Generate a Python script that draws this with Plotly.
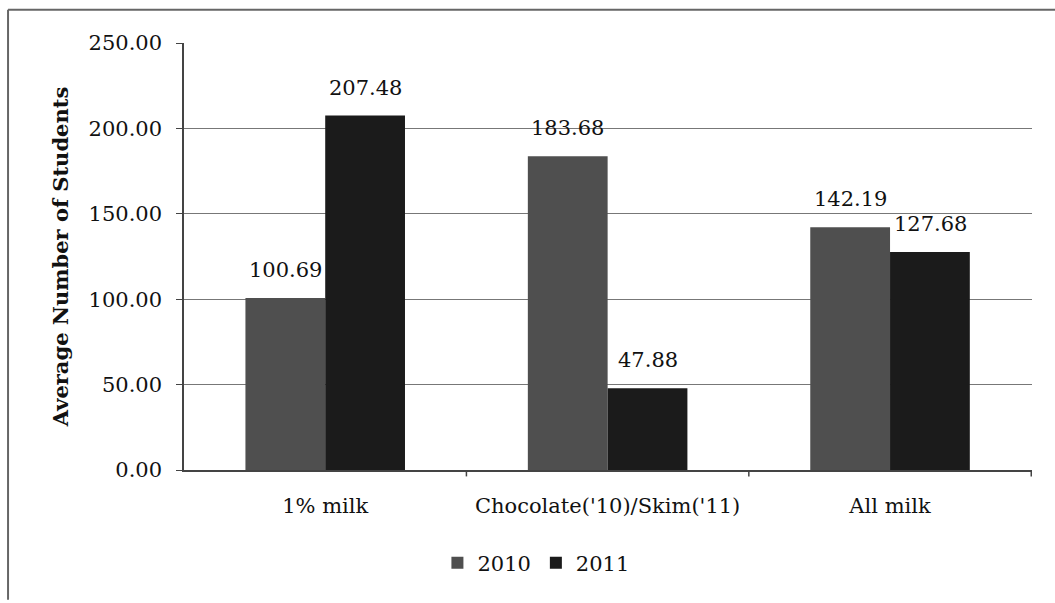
import plotly.graph_objects as go

categories = ["1% milk", "Chocolate('10)/Skim('11)", "All milk"]
values_2010 = [100.69, 183.68, 142.19]
values_2011 = [207.48, 47.88, 127.68]
series_names = ["2010", "2011"]
y_ticks = [0, 50, 100, 150, 200, 250]
y_tick_labels = ["0.00", "50.00", "100.00", "150.00", "200.00", "250.00"]

FONT = "DejaVu Serif"
FS = 21
colors = ["#4f4f4f", "#1b1b1b"]

fig = go.Figure()
for name, vals, col in zip(series_names, [values_2010, values_2011], colors):
    fig.add_trace(go.Bar(
        name=name, x=categories, y=vals,
        marker=dict(color=col, line=dict(width=0)),
    ))

# value labels above each bar
half = 40
for vals, shift in [(values_2010, -half), (values_2011, half)]:
    for cat, v in zip(categories, vals):
        fig.add_annotation(
            x=cat, y=v, xref="x", yref="y", text=f"{v:.2f}",
            showarrow=False, xshift=shift, yshift=28,
            font=dict(family=FONT, size=FS, color="#111111"),
        )

# chart frame (left and top edges)
fig.add_shape(type="line", xref="paper", yref="paper",
              x0=-0.2075, x1=-0.2075, y0=-0.304, y1=1.078,
              line=dict(color="#666666", width=2))
fig.add_shape(type="line", xref="paper", yref="paper",
              x0=-0.2075, x1=1.03, y0=1.078, y1=1.078,
              line=dict(color="#666666", width=2))

fig.update_layout(
    width=1055, height=603,
    margin=dict(l=184, r=23, t=43, b=133),
    paper_bgcolor="white", plot_bgcolor="white",
    barmode="group", bargap=0.435, bargroupgap=0,
    font=dict(family=FONT, size=FS, color="#111111"),
    showlegend=True,
    legend=dict(orientation="h", x=0.415, xanchor="center", y=-0.17, yanchor="top",
                font=dict(family=FONT, size=FS), itemwidth=30, traceorder="normal"),
    xaxis=dict(showgrid=False, showline=True, linecolor="#444444", linewidth=1.5,
               ticks="outside", ticklen=0, ticklabelstandoff=16,
               tickfont=dict(family=FONT, size=FS)),
    yaxis=dict(range=[0, 250], tickvals=y_ticks, ticktext=y_tick_labels,
               showgrid=True, gridcolor="#777777", gridwidth=1.3,
               showline=True, linecolor="#444444", linewidth=1.5,
               ticks="outside", ticklen=6, tickcolor="#444444",
               ticklabelstandoff=10,
               tickfont=dict(family=FONT, size=FS),
               title=dict(text="<b>Average Number of Students</b>",
                          font=dict(family=FONT, size=FS), standoff=14)),
)

# category separators on the x axis
for xv in [0.5, 1.5, 2.5]:
    fig.add_shape(type="line", xref="x", yref="paper", x0=xv, x1=xv, y0=0, y1=-0.015,
                  line=dict(color="#444444", width=1.5))

fig.write_html("out.html")
